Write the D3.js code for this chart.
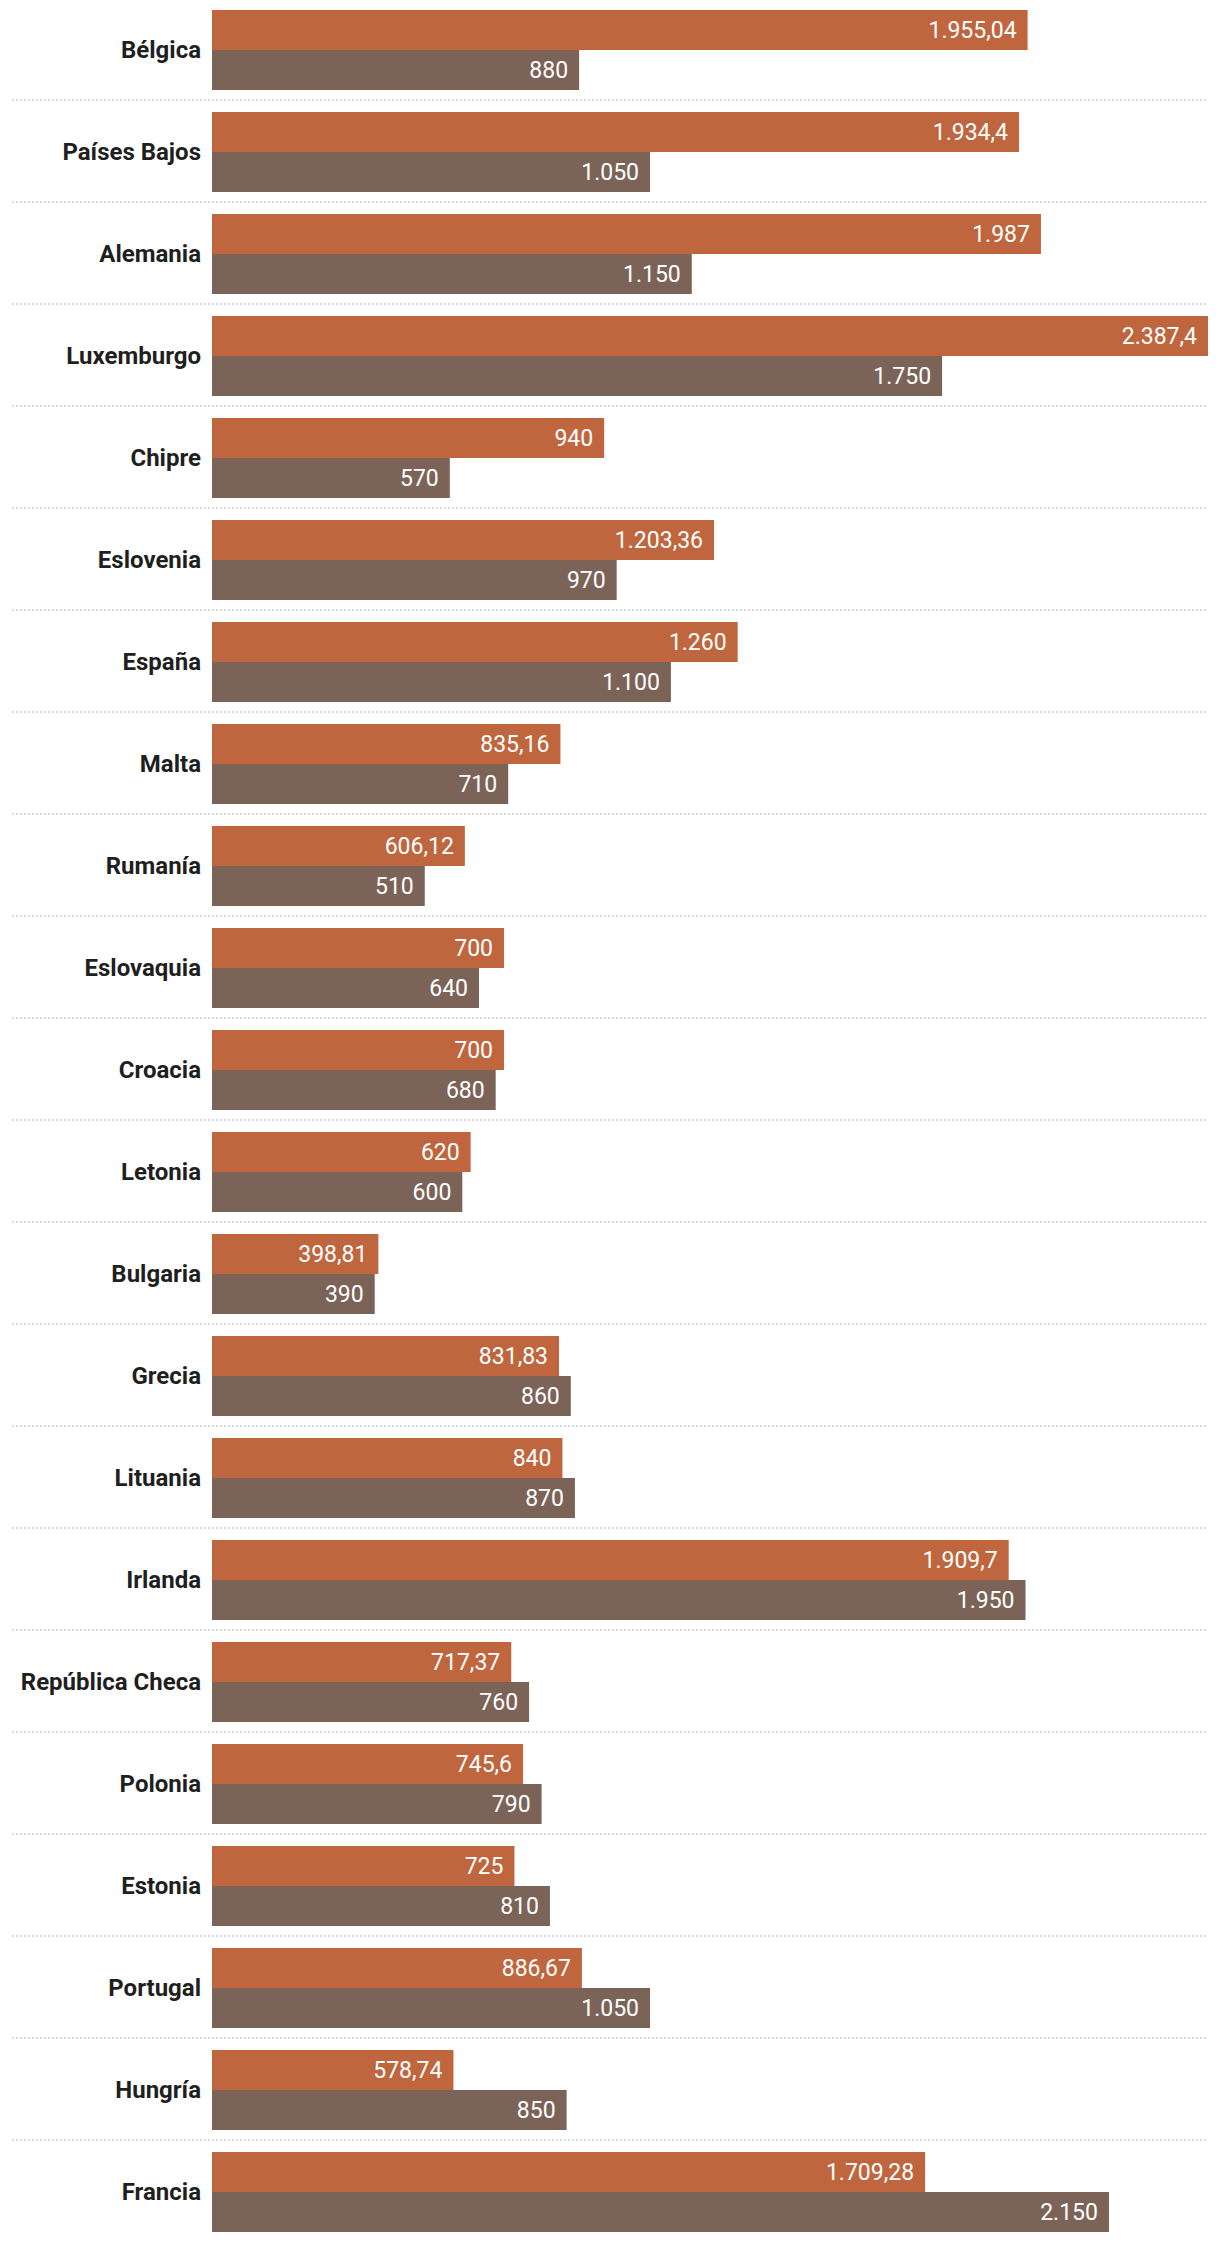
<!DOCTYPE html>
<html>
<head>
<meta charset="utf-8">
<script src="https://cdn.jsdelivr.net/npm/d3@7"></script>
<style>
  html, body { margin: 0; padding: 0; background: #fff; }
  svg { display: block; }
  .country { font-family: Roboto, "Noto Sans", sans-serif; font-weight: 700; fill: #1f1f1f; }
  .val { font-family: Roboto, "Noto Sans", sans-serif; font-weight: 400; fill: #fff; }
</style>
</head>
<body>
<svg id="chart"></svg>
<script>
const countries = ["Bélgica","Países Bajos","Alemania","Luxemburgo","Chipre","Eslovenia","España","Malta","Rumanía","Eslovaquia","Croacia","Letonia","Bulgaria","Grecia","Lituania","Irlanda","República Checa","Polonia","Estonia","Portugal","Hungría","Francia"];
const seriesA = [1955.04,1934.4,1987,2387.4,940,1203.36,1260,835.16,606.12,700,700,620,398.81,831.83,840,1909.7,717.37,745.6,725,886.67,578.74,1709.28];
const seriesB = [880,1050,1150,1750,570,970,1100,710,510,640,680,600,390,860,870,1950,760,790,810,1050,850,2150];
const seriesColors = ["#bf663f", "#7c6358"];

const W = 1220, H = 2242;
const left = 212, right = 1208;
const rowPitch = 102, barH = 40, topPad = 10;

const svg = d3.select("#chart").attr("width", W).attr("height", H);

const locale = d3.formatLocale({decimal: ",", thousands: ".", grouping: [3], currency: ["", "€"]});
const fmt = locale.format(",.2~f");

const x = d3.scaleLinear().domain([0, d3.max(seriesA.concat(seriesB))]).range([left, right]);
const y = d3.scaleBand().domain(countries).range([topPad, topPad + rowPitch * countries.length]).paddingInner(0).paddingOuter(0);
const sub = d3.scaleBand().domain([0, 1]).range([0, barH * 2]);

const data = countries.map((c, i) => ({c, vals: [seriesA[i], seriesB[i]]}));

// separators
svg.append("g").selectAll("line")
  .data(countries.slice(0, -1))
  .join("line")
  .attr("x1", 12).attr("x2", right)
  .attr("y1", d => y(d) + barH * 2 + 10)
  .attr("y2", d => y(d) + barH * 2 + 10)
  .attr("stroke", "#cfcfcf")
  .attr("stroke-width", 1.5)
  .attr("stroke-dasharray", "2,2");

const rows = svg.append("g").selectAll("g")
  .data(data)
  .join("g")
  .attr("transform", d => `translate(0,${y(d.c)})`);

rows.append("text")
  .attr("class", "country")
  .attr("x", 201)
  .attr("y", barH)
  .attr("dy", "0.35em")
  .attr("text-anchor", "end")
  .style("font-size", "24px")
  .text(d => d.c);

rows.selectAll("rect")
  .data(d => d.vals.map((v, k) => ({v, k})))
  .join("rect")
  .attr("x", x(0))
  .attr("y", d => sub(d.k))
  .attr("width", d => x(d.v) - x(0))
  .attr("height", sub.bandwidth())
  .attr("fill", d => seriesColors[d.k]);

rows.selectAll("text.val")
  .data(d => d.vals.map((v, k) => ({v, k})))
  .join("text")
  .attr("class", "val")
  .attr("x", d => x(d.v) - 11)
  .attr("y", d => sub(d.k) + sub.bandwidth() / 2)
  .attr("dy", "0.35em")
  .attr("text-anchor", "end")
  .style("font-size", "23px")
  .text(d => fmt(d.v));
</script>
</body>
</html>
